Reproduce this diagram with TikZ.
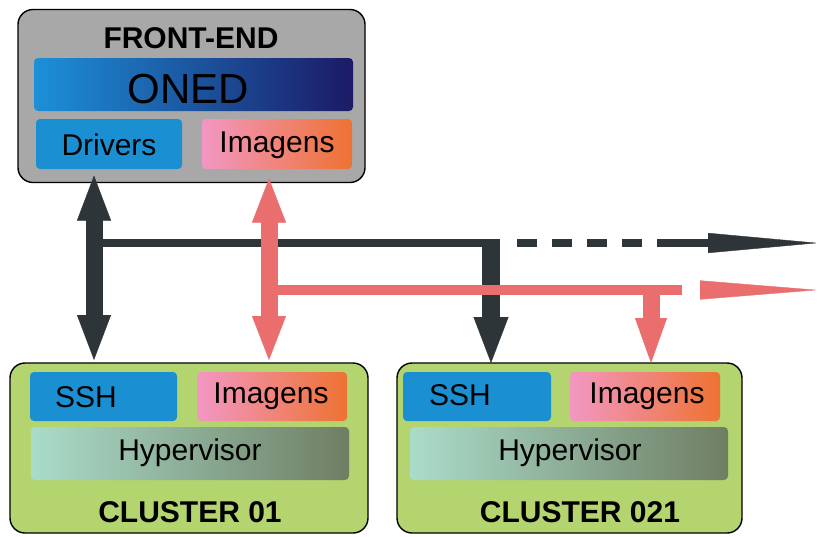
\documentclass[tikz,border=0pt]{standalone}
\usepackage{fontspec}
\setmainfont{Liberation Sans}
\usetikzlibrary{arrows.meta,calc}
\definecolor{feGray}{HTML}{A8A8A8}
\definecolor{clGreen}{HTML}{B3D46F}
\definecolor{onedL}{HTML}{1C90D8}
\definecolor{onedR}{HTML}{1C1A66}
\definecolor{drvBlue}{HTML}{1A8FD2}
\definecolor{imgL}{HTML}{F297C3}
\definecolor{imgR}{HTML}{EE7232}
\definecolor{hypL}{HTML}{AADCCA}
\definecolor{hypR}{HTML}{6F7E63}
\definecolor{darkA}{HTML}{2E3538}
\definecolor{pinkA}{HTML}{EA6E6E}
\begin{document}
\begin{tikzpicture}[x=1pt,y=-1pt,
  outerbox/.style={draw=black, line width=1.4pt, rounded corners=15pt, inner sep=0pt, outer sep=0pt},
  innerbox/.style={rounded corners=4pt, inner sep=0pt, outer sep=0pt},
  lbl/.style={anchor=base, inner sep=0pt, font=\fontsize{30}{30}\selectfont},
  blbl/.style={anchor=base, inner sep=0pt, font=\bfseries\fontsize{30}{30}\selectfont},
  imgbox/.style={innerbox, left color=imgL, right color=imgR},
  hypbox/.style={innerbox, left color=hypL, right color=hypR},
  sshbox/.style={innerbox, fill=drvBlue},
  darkline/.style={draw=darkA, line cap=butt},
  pinkline/.style={draw=pinkA, line cap=butt},
]
\useasboundingbox (0,0) rectangle (819,536);
% ---------- front end ----------
\node[outerbox, fill=feGray, minimum width=347pt, minimum height=173pt] (fe) at (191.5,96) {};
\node[blbl] (feT) at (191,48) {FRONT-END};
\node[innerbox, left color=onedL, right color=onedR, minimum width=319pt, minimum height=53pt] (oned) at (193.5,84.5) {};
\node[lbl, font=\fontsize{42}{42}\selectfont] (onedT) at (188,103) {ONED};
\node[sshbox, minimum width=146pt, minimum height=50pt] (drv) at (109,144) {};
\node[lbl] (drvT) at (109,155) {Drivers};
\node[imgbox, minimum width=150pt, minimum height=50pt] (img0) at (277,144) {};
\node[lbl] (img0T) at (277,152) {Imagens};
% ---------- cluster 01 ----------
\node[outerbox, fill=clGreen, minimum width=358pt, minimum height=170pt] (c1) at (189,448) {};
\node[sshbox, minimum width=147pt, minimum height=49pt] (ssh1) at (103.5,396.5) {};
\node[lbl] (ssh1T) at (86,407) {SSH};
\node[imgbox, minimum width=150pt, minimum height=49pt] (img1) at (272,396.5) {};
\node[lbl] (img1T) at (271,403) {Imagens};
\node[hypbox, minimum width=318pt, minimum height=53pt] (hyp1) at (190,453.5) {};
\node[lbl] (hyp1T) at (190,460) {Hypervisor};
\node[blbl] (c1T) at (190,522) {CLUSTER 01};
% ---------- cluster 021 ----------
\node[outerbox, fill=clGreen, minimum width=345pt, minimum height=170pt] (c2) at (569.5,448) {};
\node[sshbox, minimum width=148pt, minimum height=49pt] (ssh2) at (477,396.5) {};
\node[lbl] (ssh2T) at (460,405) {SSH};
\node[imgbox, minimum width=150pt, minimum height=49pt] (img2) at (645,396.5) {};
\node[lbl] (img2T) at (647,403) {Imagens};
\node[hypbox, minimum width=318pt, minimum height=53pt] (hyp2) at (569,453.5) {};
\node[lbl] (hyp2T) at (570,460) {Hypervisor};
\node[blbl] (c2T) at (580,522) {CLUSTER 021};
% ---------- junction coordinates ----------
\coordinate (dx1) at (94,0);
\coordinate (px1) at (269,0);
\coordinate (dx2) at (491,0);
\coordinate (px2) at (651,0);
\coordinate (dbusL) at (94,243);
\coordinate (dbusR) at (500,243);
\coordinate (dd0) at (517,243);
\coordinate (dd1) at (645,243);
\coordinate (dt0) at (657,243);
\coordinate (dtip) at (818,243);
\coordinate (pbusL) at (269,290);
\coordinate (pbusR) at (682,290);
\coordinate (pt0) at (700,290);
\coordinate (ptip) at (818,290);
% ---------- dark bus ----------
\draw[darkline, line width=8pt] (dbusL) -- (dbusR);
\draw[darkline, line width=8pt, dash pattern=on 20pt off 15pt] (dd0) -- (dd1);
\draw[darkline, line width=8pt, -{Triangle[length=110pt,width=20pt,line width=0.4pt]}] (dt0) -- (dtip);
\draw[darkline, line width=17pt, {Triangle[length=45pt,width=34pt,line width=0.4pt]}-{Triangle[length=45pt,width=34pt,line width=0.4pt]},
  shorten <=-7pt, shorten >=3pt] (fe.south -| dx1) -- (c1.north -| dx1);
\draw[darkline, line width=18pt, -{Triangle[length=46pt,width=35pt,line width=0.4pt]}] (dx2 |- 0,239) -- (c2.north -| dx2);
% ---------- pink bus ----------
\draw[pinkline, line width=10pt] (pbusL) -- (pbusR);
\draw[pinkline, line width=10pt, -{Triangle[length=118pt,width=19pt,line width=0.4pt]}] (pt0) -- (ptip);
\draw[pinkline, line width=17pt, {Triangle[length=44pt,width=34pt,line width=0.4pt]}-{Triangle[length=44pt,width=34pt,line width=0.4pt]},
  shorten <=-4pt, shorten >=3pt] (fe.south -| px1) -- (c1.north -| px1);
\draw[pinkline, line width=17pt, -{Triangle[length=45pt,width=32pt,line width=0.4pt]}] (px2 |- 0,285) -- (c2.north -| px2);
\end{tikzpicture}
\end{document}
